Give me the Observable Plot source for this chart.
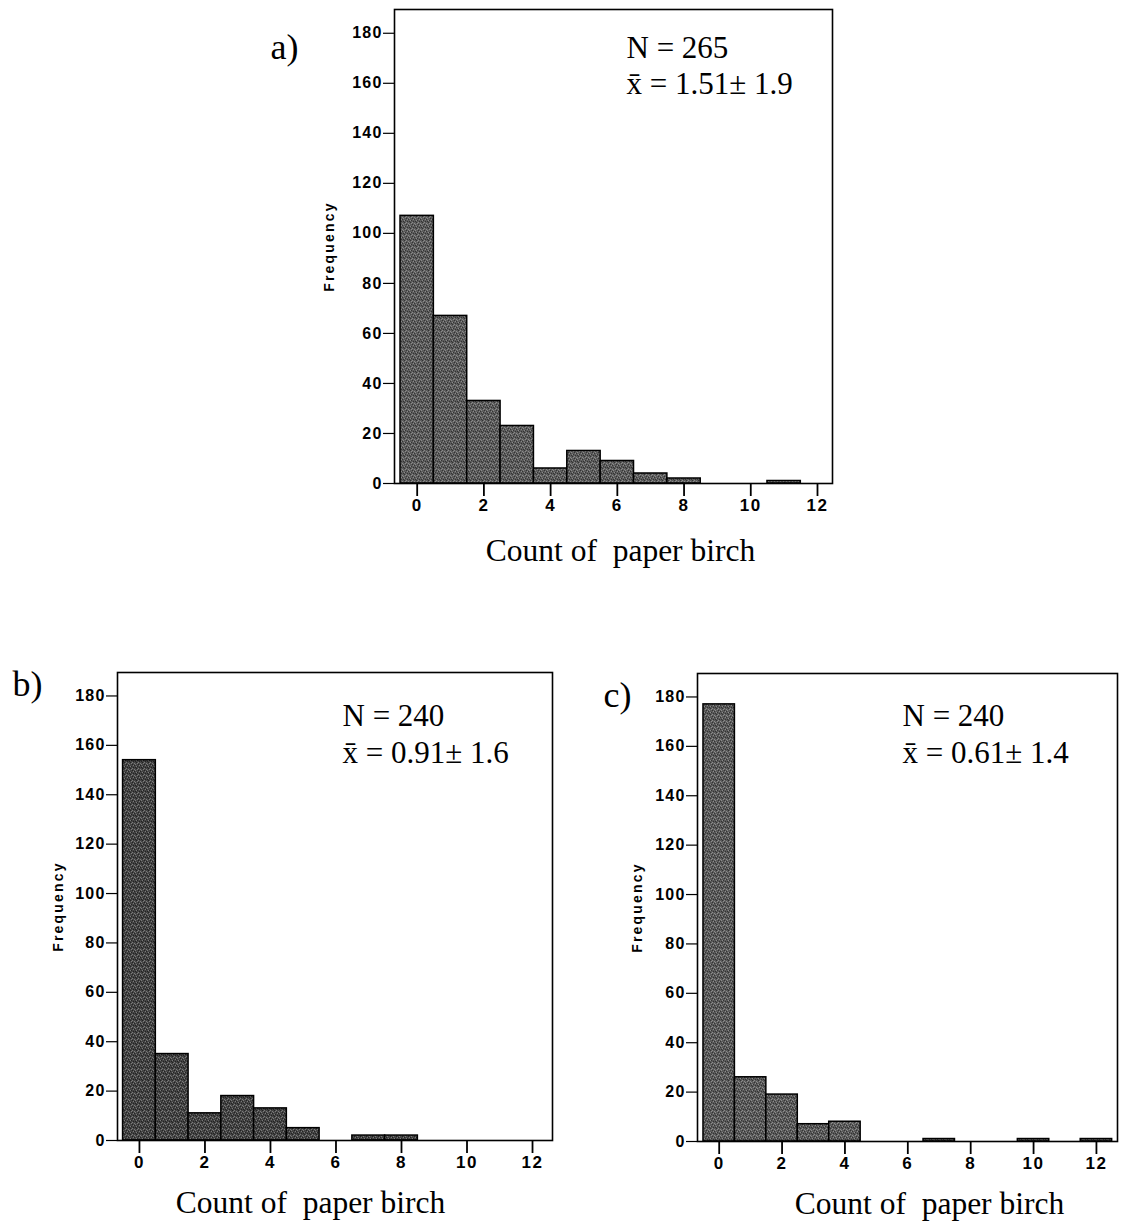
<!DOCTYPE html>
<html>
<head>
<meta charset="utf-8">
<script src="https://cdn.jsdelivr.net/npm/d3@7"></script>
<script src="https://cdn.jsdelivr.net/npm/@observablehq/plot@0.6"></script>
<style>
  html, body { margin: 0; padding: 0; background: #ffffff; }
  #root { position: relative; width: 1144px; height: 1224px; background: #ffffff; overflow: hidden; }
  #root svg { position: absolute; overflow: visible; }
  #root svg text { white-space: pre; }
  g[aria-label="y-axis tick label"] { font-size: 16px; font-weight: bold; }
  g[aria-label="x-axis tick label"] { font-size: 17px; font-weight: bold; }
  g[aria-label="y-axis tick label"] text { letter-spacing: 1.2px; }
  g[aria-label="x-axis tick label"] text { letter-spacing: 1.5px; }
  .ytitle text { letter-spacing: 2.2px; }
</style>
</head>
<body>
<div id="root"></div>
<script>
// ---- data ----
const counts = [0, 1, 2, 3, 4, 5, 6, 7, 8, 9, 10, 11, 12];
const freqA = [107, 67, 33, 23, 6, 13, 9, 4, 2, 0, 0, 1, 0];
const freqB = [154, 35, 11, 18, 13, 5, 0, 2, 2, 0, 0, 0, 0];
const freqC = [177, 26, 19, 7, 8, 0, 0, 1, 0, 0, 1, 0, 1];
const xTicks = [0, 2, 4, 6, 8, 10, 12];
const yTicks = [0, 20, 40, 60, 80, 100, 120, 140, 160, 180];
const panelLabels = ["a)", "b)", "c)"];
const sampleSizes = [265, 240, 240];
const meanValues = ["1.51", "0.91", "0.61"];
const sdValues = ["1.9", "1.6", "1.4"];
const xTitle = "Count of  paper birch";
const yTitle = "Frequency";

const seriesList = [freqA, freqB, freqC];

// ---- layout / style ----
const serif = "'Liberation Serif', 'Times New Roman', Times, serif";
const sans = "'Liberation Sans', Arial, Helvetica, sans-serif";
const layouts = [
  {left: 250, top: 0, width: 602, height: 573, mL: 144, mR: 20, mT: 9, mB: 90,
   xDomain: [-0.68, 12.45], base: "#5c5c5c", light: "#8a8a8a", dark: "#333333",
   label: {dx: -124, dy: 49}, stats: {dx: 232, dy1: 48, dy2: 84}, title: {dx: 7, dy: 77}, freq: {dx: -65}},
  {left: 0, top: 600, width: 567, height: 622, mL: 117, mR: 15, mT: 72, mB: 82,
   xDomain: [-0.67, 12.61], base: "#444444", light: "#7a7a7a", dark: "#222222",
   label: {dx: -105, dy: 23}, stats: {dx: 225, dy1: 53, dy2: 90}, title: {dx: -24.5, dy: 72}, freq: {dx: -59}},
  {left: 580, top: 600, width: 557, height: 623, mL: 117, mR: 20, mT: 73, mB: 82,
   xDomain: [-0.69, 12.67], base: "#5a5a5a", light: "#8c8c8c", dark: "#333333",
   label: {dx: -94, dy: 33}, stats: {dx: 205, dy1: 52, dy2: 89}, title: {dx: 22, dy: 72}, freq: {dx: -60}}
];

// fixed stipple tile (halftone look of the scanned bars)
const lightDots = [[0, 0], [2, 1], [1, 3], [3, 2], [4, 4], [5, 1]];
const darkDots = [[2, 3], [0, 2], [4, 0], [5, 4], [1, 5], [3, 5]];

const root = document.getElementById("root");
const ns = "http://www.w3.org/2000/svg";

function addPattern(svg, id, L) {
  const defs = document.createElementNS(ns, "defs");
  const pat = document.createElementNS(ns, "pattern");
  pat.setAttribute("id", id);
  pat.setAttribute("patternUnits", "userSpaceOnUse");
  pat.setAttribute("width", 6);
  pat.setAttribute("height", 6);
  const bg = document.createElementNS(ns, "rect");
  bg.setAttribute("width", 6); bg.setAttribute("height", 6); bg.setAttribute("fill", L.base);
  pat.appendChild(bg);
  for (const [dots, col] of [[lightDots, L.light], [darkDots, L.dark]]) {
    for (const [px, py] of dots) {
      const r = document.createElementNS(ns, "rect");
      r.setAttribute("x", px); r.setAttribute("y", py);
      r.setAttribute("width", 1); r.setAttribute("height", 1);
      r.setAttribute("fill", col);
      pat.appendChild(r);
    }
  }
  defs.appendChild(pat);
  svg.insertBefore(defs, svg.firstChild);
}

layouts.forEach((L, i) => {
  const data = counts.map((c, k) => ({count: c, freq: seriesList[i][k]}));
  const patId = "stipple-" + i;
  const chart = Plot.plot({
    width: L.width,
    height: L.height,
    marginLeft: L.mL,
    marginRight: L.mR,
    marginTop: L.mT,
    marginBottom: L.mB,
    x: {domain: L.xDomain},
    y: {domain: [0, 189.5]},
    style: {fontFamily: sans, color: "#000", background: "transparent"},
    marks: [
      Plot.rectY(data, {
        x1: d => d.count - 0.5,
        x2: d => d.count + 0.5,
        y: "freq",
        fill: `url(#${patId})`,
        stroke: "#000",
        strokeWidth: 1.5
      }),
      Plot.frame({stroke: "#000", strokeWidth: 1.6}),
      Plot.axisX(xTicks, {tickSize: 13, tickPadding: 2, fontSize: 17, fontWeight: "bold", strokeWidth: 1.8, label: null}),
      Plot.axisY(yTicks, {tickSize: 11, tickPadding: 1, fontSize: 16, fontWeight: "bold", strokeWidth: 1.2, label: null}),
      Plot.text([yTitle], {frameAnchor: "left", dx: L.freq.dx, rotate: -90, textAnchor: "middle", lineAnchor: "middle",
        fontSize: 14, fontWeight: "bold", fontFamily: sans, className: "ytitle"}),
      Plot.text([panelLabels[i]], {frameAnchor: "top-left", dx: L.label.dx, dy: L.label.dy, textAnchor: "start", lineAnchor: "bottom",
        fontSize: 36, fontFamily: serif}),
      Plot.text([`N = ${sampleSizes[i]}`], {frameAnchor: "top-left", dx: L.stats.dx, dy: L.stats.dy1, textAnchor: "start", lineAnchor: "bottom",
        fontSize: 31, fontFamily: serif}),
      Plot.text([`x\u0304 = ${meanValues[i]}\u00b1 ${sdValues[i]}`], {frameAnchor: "top-left", dx: L.stats.dx, dy: L.stats.dy2, textAnchor: "start", lineAnchor: "bottom",
        fontSize: 31, fontFamily: serif}),
      Plot.text([xTitle], {frameAnchor: "bottom", dx: L.title.dx, dy: L.title.dy, textAnchor: "middle", lineAnchor: "bottom",
        fontSize: 31.5, fontFamily: serif})
    ]
  });
  addPattern(chart, patId, L);
  chart.style.left = L.left + "px";
  chart.style.top = L.top + "px";
  root.appendChild(chart);
});
</script>
</body>
</html>
